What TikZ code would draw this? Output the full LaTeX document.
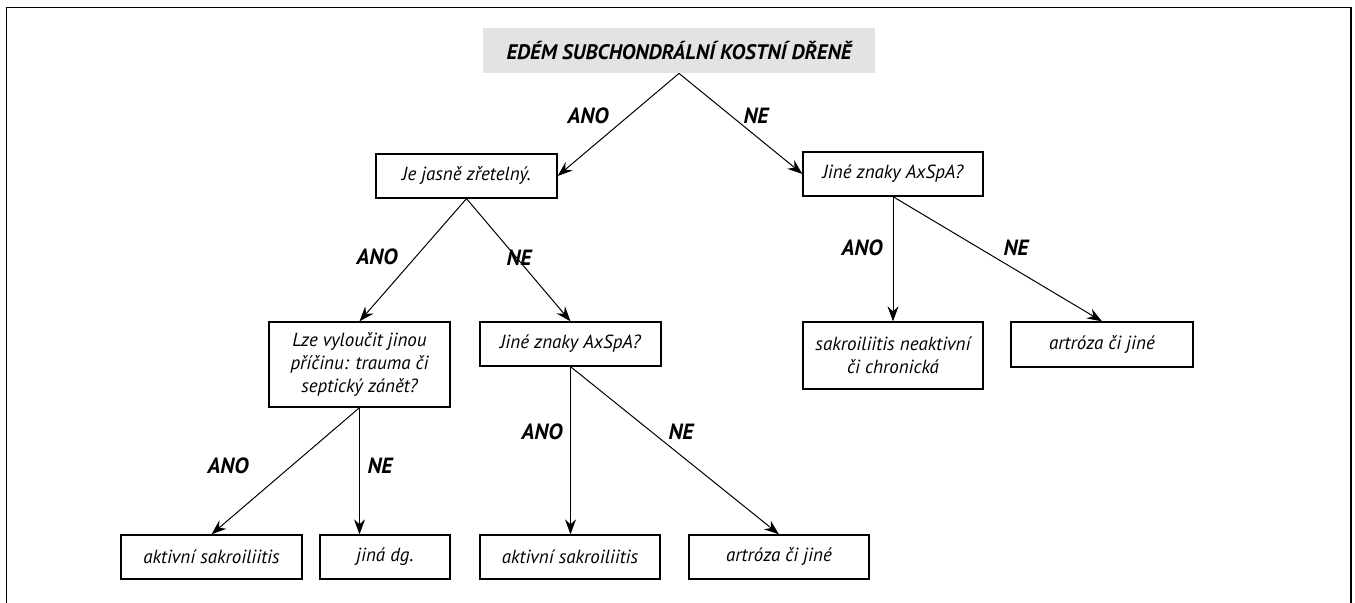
\documentclass[tikz,border=0pt]{standalone}
\usepackage{fontspec}
\setmainfont{PT Sans}
\usetikzlibrary{arrows.meta}
\tikzset{
  box/.style={draw, line width=0.65pt, inner sep=2pt, align=center,
              font=\fontsize{9.5}{11.6}\selectfont\itshape},
  head/.style={fill=black!11, inner sep=0pt,
               font=\fontsize{10.5}{12}\selectfont\bfseries\itshape},
  ans/.style={font=\fontsize{11}{13}\selectfont\bfseries\itshape},
  flow/.style={-{Stealth[length=7.5pt, width=5.5pt, inset=2.5pt]}, line width=0.5pt},
}
\begin{document}
\begin{tikzpicture}[x=0.5pt, y=-0.5pt]
  \useasboundingbox (0,0) rectangle (1355,603);
  % frame
  \draw[line width=0.7pt] (6.5,603) -- (6.5,7.5) -- (1351,7.5) -- (1351,603);

  % first question
  \node[head, minimum width=196pt, minimum height=22.5pt] (root) at (679,50.5)
    {EDÉM SUBCHONDRÁLNÍ KOSTNÍ DŘENĚ};

  % second level
  \node[box, minimum width=90.5pt, minimum height=22pt] (clear) at (466.5,176) {Je jasně zřetelný.};
  \node[box, minimum width=90pt, minimum height=22pt] (signsR) at (893,174) {Jiné znaky AxSpA?};
  \draw[flow] (root.south) -- (clear.east);
  \draw[flow] (root.south) -- (signsR.west);
  \node[ans] (a1) at (588,116) {ANO};
  \node[ans] (n1) at (756,116) {NE};

  % third level
  \node[box, minimum width=90.5pt, minimum height=42.5pt] (cause) at (359.5,364.5)
    {Lze vyloučit jinou\\příčinu: trauma či\\septický zánět?};
  \node[box, minimum width=90.5pt, minimum height=22pt] (signsM) at (570.5,344) {Jiné znaky AxSpA?};
  \node[box, minimum width=90pt, minimum height=33.5pt] (chronic) at (893,355.5)
    {sakroiliitis neaktivní\\či chronická};
  \node[box, minimum width=91pt, minimum height=22.5pt] (otherR) at (1102,344.5) {artróza či jiné};
  \draw[flow] (clear.south) -- (cause.north);
  \draw[flow] (clear.south) -- (signsM.north);
  \draw[flow] (signsR.south) -- (signsR.south |- chronic.north);
  \draw[flow] (signsR.south) -- (otherR.north);
  \node[ans] (a2) at (377,257) {ANO};
  \node[ans] (n2) at (519,258) {NE};
  \node[ans] (a3) at (862,248) {ANO};
  \node[ans] (n3) at (1016,248) {NE};

  % bottom row
  \node[box, minimum width=90.5pt, minimum height=22pt] (activeL) at (211.5,557) {aktivní sakroiliitis};
  \node[box, minimum width=65pt, minimum height=22pt] (diag) at (385,557) {jiná dg.};
  \node[box, minimum width=90pt, minimum height=22pt] (activeM) at (570,557) {aktivní sakroiliitis};
  \node[box, minimum width=90pt, minimum height=22pt] (otherM) at (779,557) {artróza či jiné};
  \draw[flow] (cause.south) -- (activeL.north);
  \draw[flow] (cause.south) -- (cause.south |- diag.north);
  \draw[flow] (signsM.south) -- (signsM.south |- activeM.north);
  \draw[flow] (signsM.south) -- (otherM.north);
  \node[ans] (a4) at (228,466) {ANO};
  \node[ans] (n4) at (380,466) {NE};
  \node[ans] (a5) at (542,432) {ANO};
  \node[ans] (n5) at (681,432) {NE};
\end{tikzpicture}
\end{document}
